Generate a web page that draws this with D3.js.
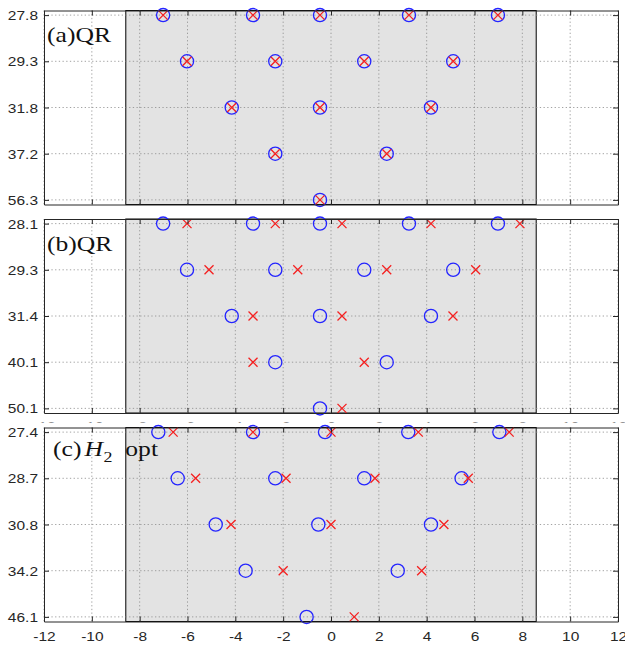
<!DOCTYPE html>
<html>
<head>
  <script src="https://cdn.jsdelivr.net/npm/d3@7"></script>
  <style>
    body { margin: 0; background: #ffffff; }
    text { font-family: 'Liberation Sans', Arial, sans-serif; }
    .label { font-family: 'Liberation Serif', 'Times New Roman', serif; }
  </style>
</head>
<body>
  <div id="chart"></div>
  <script>
    // x ticks shared by all three panels
    const xTicks = [-12, -10, -8, -6, -4, -2, 0, 2, 4, 6, 8, 10, 12];
    const boxHalf = 8.58;

    // panel (a)
    const aLabels = ["27.8", "29.3", "31.8", "37.2", "56.3"];
    const aCircles = [[-7.02, -3.26, -0.46, 3.26, 6.98], [-6.02, -2.33, 1.39, 5.11], [-4.15, -0.46, 4.18], [-2.33, 2.33], [-0.46]];
    const aCrosses = [[-7.02, -3.26, -0.46, 3.26, 6.98], [-6.02, -2.33, 1.39, 5.11], [-4.15, -0.46, 4.18], [-2.33, 2.33], [-0.46]];

    // panel (b)
    const bLabels = ["28.1", "29.3", "31.4", "40.1", "50.1"];
    const bCircles = [[-7.02, -3.26, -0.46, 3.26, 6.98], [-6.02, -2.33, 1.39, 5.11], [-4.15, -0.46, 4.18], [-2.33, 2.33], [-0.46]];
    const bCrosses = [[-6.02, -2.33, 0.46, 4.18, 7.9], [-5.1, -1.39, 2.33, 6.05], [-3.26, 0.46, 5.1], [-3.26, 1.39], [0.46]];

    // panel (c)
    const cLabels = ["27.4", "28.7", "30.8", "34.2", "46.1"];
    const cCircles = [[-7.22, -3.26, -0.25, 3.23, 7.04], [-6.41, -2.33, 1.39, 5.46], [-4.82, -0.53, 4.18], [-3.57, 2.79], [-1.02]];
    const cCrosses = [[-6.6, -3.26, 0, 3.65, 7.45], [-5.66, -1.88, 1.84, 5.74], [-4.18, 0, 4.72], [-2.0, 3.79], [0.97]];

    const W = 625, H = 648;
    const panelH = 194;
    const sx = 1.22; // glyphs in the picture are stretched horizontally

    var svg = d3.select("#chart").append("svg")
      .attr("width", W)
      .attr("height", H);

    var x = d3.scaleLinear().domain([-12, 12]).range([44, 618]);

    function flatten(rows) {
      let out = [];
      rows.forEach(function (r, i) {
        r.forEach(function (v) { out.push({ x: v, row: i + 1 }); });
      });
      return out;
    }

    function drawPanel(top, labels, circles, crosses, last, labelFn) {
      let bottom = top + panelH;
      let y = d3.scaleLinear().domain([0.9, 5.1]).range([top, bottom]);
      let g = svg.append("g");

      // white backdrop hides the previous panel's tick labels
      g.append("rect")
        .attr("x", 0).attr("y", top - 5)
        .attr("width", W).attr("height", panelH + 5)
        .attr("fill", "#ffffff");

      g.append("rect")
        .attr("x", x(-boxHalf)).attr("y", top)
        .attr("width", x(boxHalf) - x(-boxHalf)).attr("height", panelH)
        .attr("fill", "#e3e3e3")
        .attr("stroke", "#000")
        .attr("stroke-width", 1);

      // dotted grid
      g.append("g").selectAll("line").data(xTicks).enter().append("line")
        .attr("x1", d => x(d)).attr("x2", d => x(d))
        .attr("y1", top).attr("y2", bottom)
        .attr("stroke", "#8c8c8c").attr("stroke-width", 0.8)
        .attr("stroke-dasharray", "1.3,2.4");
      g.append("g").selectAll("line").data([1, 2, 3, 4, 5]).enter().append("line")
        .attr("x1", x(-12)).attr("x2", x(12))
        .attr("y1", d => y(d)).attr("y2", d => y(d))
        .attr("stroke", "#8c8c8c").attr("stroke-width", 0.8)
        .attr("stroke-dasharray", "1.3,2.4");

      g.append("g").selectAll("circle").data(flatten(circles)).enter().append("circle")
        .attr("cx", d => x(d.x)).attr("cy", d => y(d.row))
        .attr("r", 6.6)
        .attr("fill", "none")
        .attr("stroke", "#2424ff")
        .attr("stroke-width", 1.3);

      let s = 4.5;
      g.append("g").selectAll("path").data(flatten(crosses)).enter().append("path")
        .attr("d", function (d) {
          let cx = x(d.x), cy = y(d.row);
          return "M" + (cx - s) + "," + (cy - s) + "L" + (cx + s) + "," + (cy + s)
            + "M" + (cx - s) + "," + (cy + s) + "L" + (cx + s) + "," + (cy - s);
        })
        .attr("stroke", "#f52020")
        .attr("stroke-width", 1.3);

      // axes with inward ticks
      let axB = g.append("g").attr("transform", "translate(0," + bottom + ")")
        .call(d3.axisBottom(x).tickValues(xTicks).tickSize(-5).tickSizeOuter(0)
          .tickFormat(d => String(d)));
      axB.selectAll("text")
        .attr("y", 0).attr("dy", 0)
        .attr("transform", "translate(0," + (last ? 19.5 : 18) + ") scale(" + sx + ",1)");

      g.append("g").attr("transform", "translate(0," + top + ")")
        .call(d3.axisTop(x).tickValues(xTicks).tickSize(-5).tickSizeOuter(0).tickFormat(""));

      let axL = g.append("g").attr("transform", "translate(" + x(-12) + ",0)")
        .call(d3.axisLeft(y).tickValues([1, 2, 3, 4, 5]).tickSize(-5).tickSizeOuter(0)
          .tickFormat((d, i) => labels[i]));
      axL.selectAll("text")
        .attr("x", 0).attr("dy", 0)
        .attr("text-anchor", "end")
        .attr("transform", "translate(-6,4.5) scale(" + sx + ",1)");

      g.append("g").attr("transform", "translate(" + x(12) + ",0)")
        .call(d3.axisRight(y).tickValues([1, 2, 3, 4, 5]).tickSize(-5).tickSizeOuter(0).tickFormat(""));

      g.selectAll(".domain").attr("stroke", "#262626").attr("stroke-width", 1);
      g.selectAll(".tick line").attr("stroke", "#262626").attr("stroke-width", 1);
      g.selectAll(".tick text").attr("fill", "#262626").attr("font-size", 12.7)
        .attr("font-family", "'Liberation Sans', Arial, sans-serif");

      labelFn(g, top);
    }

    function simpleLabel(txt) {
      return function (g, top) {
        g.append("text")
          .attr("class", "label")
          .attr("transform", "translate(47," + (top + 31.5) + ") scale(" + sx + ",1)")
          .attr("font-size", 21)
          .attr("fill", "#111")
          .text(txt);
      };
    }

    function h2Label(g, top) {
      let t = g.append("text")
        .attr("class", "label")
        .attr("transform", "translate(53," + (top + 28) + ") scale(" + sx + ",1)")
        .attr("font-size", 21)
        .attr("fill", "#111");
      t.append("tspan").text("(c)");
      t.append("tspan").attr("dx", 2.5).attr("font-style", "italic").text("H");
      t.append("tspan").attr("dx", 0.5).attr("dy", 6).attr("font-size", 14.7).text("2");
      t.append("tspan").attr("dx", 10.5).attr("dy", -6).text("opt");
    }

    drawPanel(10.5, aLabels, aCircles, aCrosses, false, simpleLabel("(a)QR"));
    drawPanel(219, bLabels, bCircles, bCrosses, false, simpleLabel("(b)QR"));
    drawPanel(427.5, cLabels, cCircles, cCrosses, true, h2Label);
  </script>
</body>
</html>
